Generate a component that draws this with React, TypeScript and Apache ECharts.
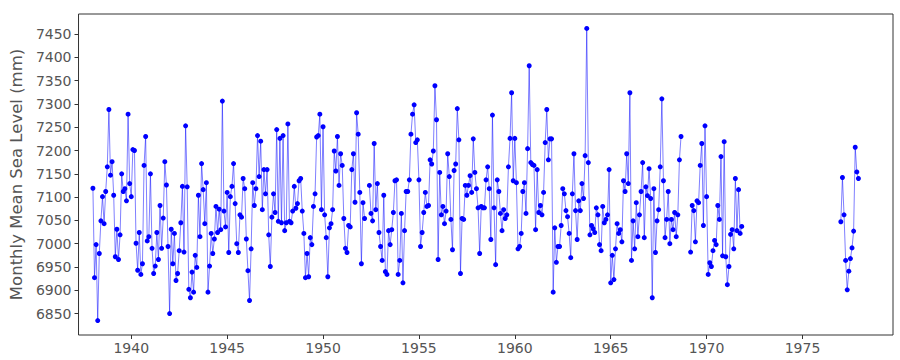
import { useEffect, useRef } from "react";
import * as echarts from "echarts";

// Monthly mean sea level (mm), starting January 1938 (null = missing month)
const MAIN_START_YEAR = 1938;
const mainLevels: (number | null)[] = [
  7119, 6927, 6998, 6835, 6979, 7049, 7101, 7043, 7112, 7165,
  7288, 7147, 7176, 7104, 6972, 7031, 6966, 7019, 7150, 7112,
  7118, 7092, 7278, 7129, 7101, 7202, 7200, 7001, 6943, 7024,
  6934, 6957, 7168, 7230, 7006, 7015, 7150, 6990, 6936, 6952,
  7024, 6966, 7082, 6990, 7055, 7176, 7126, 6994, 6850, 7031,
  6957, 7022, 6921, 6936, 6985, 7045, 7123, 6982, 7253, 7122,
  6902, 6884, 6939, 6896, 6975, 6949, 7104, 7015, 7172, 7116,
  7043, 7131, 6896, 6952, 7022, 6979, 7010, 7080, 7024, 7074,
  7030, 7306, 7070, 7036, 7110, 6981, 7101, 7123, 7172, 7086,
  7000, 6981, 7062, 7057, 7140, 7118, 7010, 6942, 6878, 6989,
  7131, 7082, 7118, 7232, 7144, 7220, 7073, 7159, 7107, 7159,
  7019, 6951, 7057, 7107, 7067, 7245, 7048, 7226, 7045, 7232,
  7028, 7045, 7257, 7048, 7045, 7070, 7123, 7076, 7086, 7135,
  7140, 7070, 7022, 6927, 6979, 6929, 7013, 6998, 7080, 7107,
  7229, 7232, 7278, 7073, 7251, 7062, 7013, 6929, 7034, 7043,
  7073, 7199, 7156, 7230, 7125, 7193, 7168, 7054, 6990, 6981,
  7039, 7036, 7159, 7193, 7089, 7281, 7235, 7110, 6957, 7088,
  7054, null, null, 7125, 7065, 7049, 7215, 7073, 7129, 7024,
  6994, 6964, 7104, 6940, 6934, 7028, 6998, 7030, 7067, 7135,
  7137, 6934, 6964, 7065, 6916, 7028, 7112, 7112, 7137, 7235,
  7278, 7298, 7217, 7223, 7137, 6994, 7024, 7067, 7110, 7080,
  7082, 7180, 7171, 7199, 7339, 7266, 6966, 7153, 7062, 7080,
  7043, 7070, 7193, 7144, 7052, 6987, 7157, 7171, 7290, 7223,
  6936, 7054, 7052, 7125, 7104, 7125, 7146, 7110, 7225, 7153,
  7118, 7077, 6979, 7080, 7077, 7077, 7137, 7165, 7118, 7009,
  7276, 7077, 6955, 7137, 7112, 7065, 7028, 7073, 7054, 7062,
  7165, 7226, 7324, 7135, 7226, 7131, 6989, 6994, 7022, 7112,
  7131, 7065, 7204, 7382, 7174, 7170, 7168, 7030, 7159, 7067,
  7082, 7062, 7110, 7217, 7288, 7180, 7225, 7225, 6896, 7034,
  6960, 6994, 6994, 7039, 7118, 7107, 7071, 7058, 7022, 6970,
  7107, 7193, 7071, 7009, 7092, 7071, 7129, 7097, 7189, 7462,
  7174, 7019, 7039, 7032, 7024, 7077, 7062, 6998, 6985, 7080,
  7045, 7052, 7062, 7159, 6916, 6975, 6923, 6989, 7043, 7022,
  7030, 7004, 7135, 7112, 7193, 7129, 7324, 6964, 7049, 6989,
  7088, 7015, 7062, 7112, 7174, 7013, 7122, 7103, 7161, 7097,
  6884, 7118, 6981, 7049, 7073, 7165, 7311, 7135, 7013, 7052,
  7112, 7000, 7052, 7030, 7067, 7015, 7062, 7180, 7230, null,
  null, null, null, null, 6982, 7082, 7071, 7004, 7092, 7088,
  7168, 7215, 7039, 7253, 7101, 6934, 6959, 6951, 6985, 7007,
  6998, 7082, 7052, 7187, 6974, 7219, 6972, 6912, 6951, 7020,
  7030, 6989, 7140, 7028, 7116, 7022, 7037,
];

// Monthly mean sea level (mm), January–December 1977
const LATE_START_YEAR = 1977;
const lateLevels: number[] = [
  7047, 7142, 7062, 6964, 6901, 6941, 6968, 6991, 7027, 7207, 7154, 7140,
];

const xTicks = [1940, 1945, 1950, 1955, 1960, 1965, 1970, 1975];
const yTicks = [6850, 6900, 6950, 7000, 7050, 7100, 7150, 7200, 7250, 7300, 7350, 7400, 7450];

const FONT = "DejaVu Sans";
const TEXT_COLOR = "#555555";
const FRAME_COLOR = "#333333";

function monthly(startYear: number, values: (number | null)[]) {
  return values.map((v, i) => [startYear + i / 12, v]);
}

export default function App() {
  const ref = useRef<HTMLDivElement>(null);

  useEffect(() => {
    if (!ref.current) return;
    const chart = echarts.init(ref.current, undefined, { renderer: "svg" });

    const seriesStyle = {
      type: "line" as const,
      symbol: "circle",
      symbolSize: 5,
      showSymbol: true,
      showAllSymbol: true,
      connectNulls: false,
      itemStyle: { color: "#0000ff" },
      lineStyle: { color: "rgba(0,0,255,0.5)", width: 1 },
      emphasis: { disabled: true },
      silent: true,
    };

    chart.setOption({
      animation: false,
      backgroundColor: "#ffffff",
      grid: {
        left: 78,
        right: 7,
        top: 14,
        bottom: 25,
        show: true,
        borderColor: FRAME_COLOR,
        borderWidth: 1,
        backgroundColor: "transparent",
      },
      xAxis: {
        type: "value",
        min: 1937.25,
        max: 1979.72,
        splitLine: { show: false },
        axisLine: { show: false },
        axisTick: {
          show: true,
          customValues: xTicks,
          length: 4,
          lineStyle: { color: FRAME_COLOR },
        },
        axisLabel: {
          customValues: xTicks,
          formatter: (v: number) => String(Math.round(v)),
          color: TEXT_COLOR,
          fontSize: 14,
          fontFamily: FONT,
          margin: 6,
        },
      },
      yAxis: {
        type: "value",
        min: 6804,
        max: 7493,
        splitLine: { show: false },
        axisLine: { show: false },
        axisTick: {
          show: true,
          customValues: yTicks,
          length: 4,
          lineStyle: { color: FRAME_COLOR },
        },
        axisLabel: {
          customValues: yTicks,
          formatter: (v: number) => String(Math.round(v)),
          color: TEXT_COLOR,
          fontSize: 14,
          fontFamily: FONT,
          margin: 7,
        },
        name: "Monthly Mean Sea Level (mm)",
        nameLocation: "middle",
        nameGap: 48,
        nameTextStyle: { color: TEXT_COLOR, fontSize: 16.5, fontFamily: FONT },
      },
      series: [
        { ...seriesStyle, name: "main", data: monthly(MAIN_START_YEAR, mainLevels) },
        { ...seriesStyle, name: "late", data: monthly(LATE_START_YEAR, lateLevels) },
      ],
    });

    return () => chart.dispose();
  }, []);

  return (
    <div
      ref={ref}
      style={{ position: "fixed", left: 0, top: 0, width: 900, height: 360 }}
    />
  );
}
